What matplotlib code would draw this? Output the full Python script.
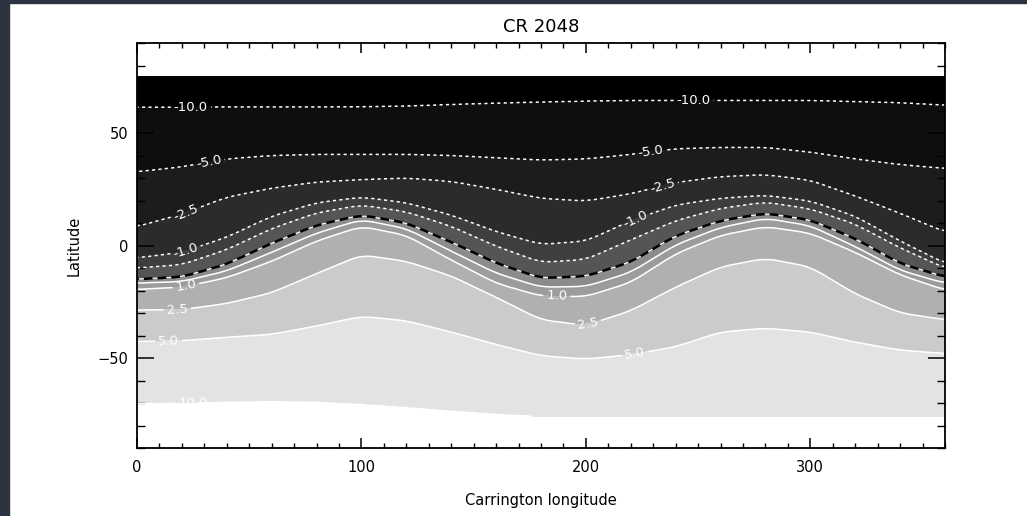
import numpy as np
import matplotlib
matplotlib.use('Agg')
import matplotlib.pyplot as plt
from matplotlib.patches import Rectangle

# contour latitudes, every 20 deg of longitude
lon_nodes = np.arange(0, 361, 20)
lat_p10  = [-70.4, -70.2, -69.8, -69.5, -69.8, -70.8, -72.2, -73.8, -75.2, -76.2, -77, -77.5, -77.5, -77.5, -77.5, -77.5, -77.5, -77.5, -77.5]
lat_p5   = [-42.7, -42.3, -40.8, -39.5, -35.8, -31.5, -33.5, -38.5, -44, -49, -50.5, -48.5, -45, -38.5, -36.8, -38.5, -43, -46.5, -48]
lat_p25  = [-28.7, -28.5, -25.8, -21, -12.5, -4.2, -7, -13.5, -23, -33, -35.5, -29, -18.5, -9.5, -5.7, -9.5, -21.5, -30, -33]
lat_p1   = [-19.5, -18.5, -14.3, -7, 2, 8.5, 4.5, -6.5, -16.8, -22.5, -22.7, -16.4, -3.7, 4.5, 8.4, 5.5, -3, -13, -19.8]
lat_p05  = [-16.7, -16, -11.3, -3, 5.5, 11.5, 7.5, -2.5, -12.3, -18.5, -18.2, -11.9, 0.3, 8, 12.1, 8.8, -0.5, -11, -16.8]
lat_0    = [-15, -14, -8.3, 1, 9, 13.5, 10, 1.5, -7.8, -14.5, -13.7, -7.4, 4.3, 11, 14.3, 11.3, 3, -8, -14]
lat_m05  = [-10, -8.5, -1.8, 7.5, 14.5, 18, 15, 8.5, -0.3, -7.5, -6.2, 2.5, 11, 16.5, 19.3, 16.3, 9.5, -1, -10]
lat_m1   = [-5.5, -3, 3.7, 13, 19, 21.5, 19, 13.5, 6.2, 0.5, 2, 11, 18, 21, 22.3, 19.8, 13, 2, -8]
lat_m25  = [8.4, 14, 21.5, 25.5, 28.2, 29.3, 30, 28.5, 25, 21, 19.8, 23, 28, 30.6, 31.5, 29, 22, 14.3, 6]
lat_m5   = [32.8, 35, 38.5, 40, 40.5, 40.5, 40.5, 40, 39, 38, 38.5, 40.5, 43, 43.6, 43.6, 41.5, 38.5, 36, 34.3]
lat_m10  = [61.5, 61.5, 61.6, 61.6, 61.6, 61.7, 62, 62.7, 63.3, 63.8, 64.2, 64.5, 64.5, 64.5, 64.5, 64.5, 64, 63.5, 62.4]

levels = [10, 5, 2.5, 1, 0.5, 0, -0.5, -1, -2.5, -5, -10]
tracks_in = [lat_p10, lat_p5, lat_p25, lat_p1, lat_p05, lat_0,
             lat_m05, lat_m1, lat_m25, lat_m5, lat_m10]
fill_colors = ['#000000', '#0e0e0e', '#1c1c1c', '#2b2b2b', '#3e3e3e', '#555555',
               '#8c8c8c', '#9c9c9c', '#b0b0b0', '#cbcbcb', '#e3e3e3', '#ffffff']

lab_pos = {-10: [(24, 61.5), (248, 64.5)], -5: [(32, 37), (229, 41)],
           -2.5: [(22, 14), (234, 27)], -1: [(22, -3), (222, 12)],
           1: [(22, -19), (187, -23)], 2.5: [(18, -28.5), (201, -35)],
           5: [(14, -42.5), (222, -48.5)], 10: [(25, -70)]}

# build the field so that each level sits at the read latitude
lon_f = np.arange(0, 360.5, 1.0)
lat_f = np.linspace(-76, 75, 450)

def smooth_track(vals):
    y = np.interp(lon_f, lon_nodes, vals)
    k = 11
    pad = np.pad(y, k // 2, mode='edge')
    return np.convolve(pad, np.ones(k) / k, mode='valid')

tracks = [smooth_track(t) for t in tracks_in]
Z = np.empty((len(lat_f), len(lon_f)))
for j in range(len(lon_f)):
    xp = [-90] + [t[j] for t in tracks] + [90]
    fp = [20] + levels + [-20]
    Z[:, j] = np.interp(lat_f, xp, fp)

fig = plt.figure(figsize=(10.27, 5.16), dpi=100, facecolor='white')
# dark frame on left / top
fig.patches.append(Rectangle((0, 0), 9 / 1027, 1, transform=fig.transFigure, color='#2d3441', zorder=-1))
fig.patches.append(Rectangle((0, 1 - 3 / 516), 1, 3 / 516, transform=fig.transFigure, color='#2d3441', zorder=-1))

ax = fig.add_axes([137 / 1027, 1 - 448 / 516, 808 / 1027, 405 / 516])
ax.set_facecolor('white')

lev_up = sorted(levels)
ax.contourf(lon_f, lat_f, Z, levels=[-1e3] + lev_up + [1e3], colors=fill_colors)

neg = ax.contour(lon_f, lat_f, Z, levels=[-10, -5, -2.5, -1, -0.5], colors='white',
                 linewidths=1.1, linestyles=[(0, (2, 2.2))])
ax.contour(lon_f, lat_f, Z, levels=[0], colors='white', linewidths=0.8, linestyles='solid')
ax.contour(lon_f, lat_f, Z, levels=[0], colors='black', linewidths=1.8, linestyles=[(0, (3.5, 2))])
pos = ax.contour(lon_f, lat_f, Z, levels=[0.5, 1, 2.5, 5, 10], colors='white',
                 linewidths=1.1, linestyles='solid')

fmt = lambda v: f'{v:.1f}'
neg_pts = [p for L in [-10, -5, -2.5, -1] for p in lab_pos[L]]
pos_pts = [p for L in [1, 2.5, 5, 10] for p in lab_pos[L]]
ax.clabel(neg, manual=neg_pts, fmt=fmt, fontsize=9.5, colors='white', inline=True, inline_spacing=3)
ax.clabel(pos, manual=pos_pts, fmt=fmt, fontsize=9.5, colors='white', inline=True, inline_spacing=3)

ax.set_xlim(0, 360)
ax.set_ylim(-90, 90)
ax.set_xticks([0, 100, 200, 300])
ax.set_xticks(np.arange(0, 361, 10), minor=True)
ax.set_yticks([-50, 0, 50])
ax.set_yticks(np.arange(-90, 91, 10), minor=True)
ax.tick_params(which='both', direction='in', top=True, right=True, colors='black', labelsize=10.5)
ax.tick_params(axis='x', which='major', length=7.2, width=1.1, pad=9)
ax.tick_params(axis='x', which='minor', length=3.6, width=1.0)
ax.tick_params(axis='y', which='major', length=12.2, width=1.1, pad=6)
ax.tick_params(axis='y', which='minor', length=6.0, width=1.0)
for s in ax.spines.values():
    s.set_linewidth(1.3)

ax.set_title('CR 2048', fontsize=13, pad=8)
ax.set_xlabel('Carrington longitude', fontsize=10.5)
ax.set_ylabel('Latitude', fontsize=10.5)
ax.xaxis.set_label_coords(0.5, -0.11)
ax.yaxis.set_label_coords(-0.068, 0.5)

fig.savefig('out.png', dpi=100)
